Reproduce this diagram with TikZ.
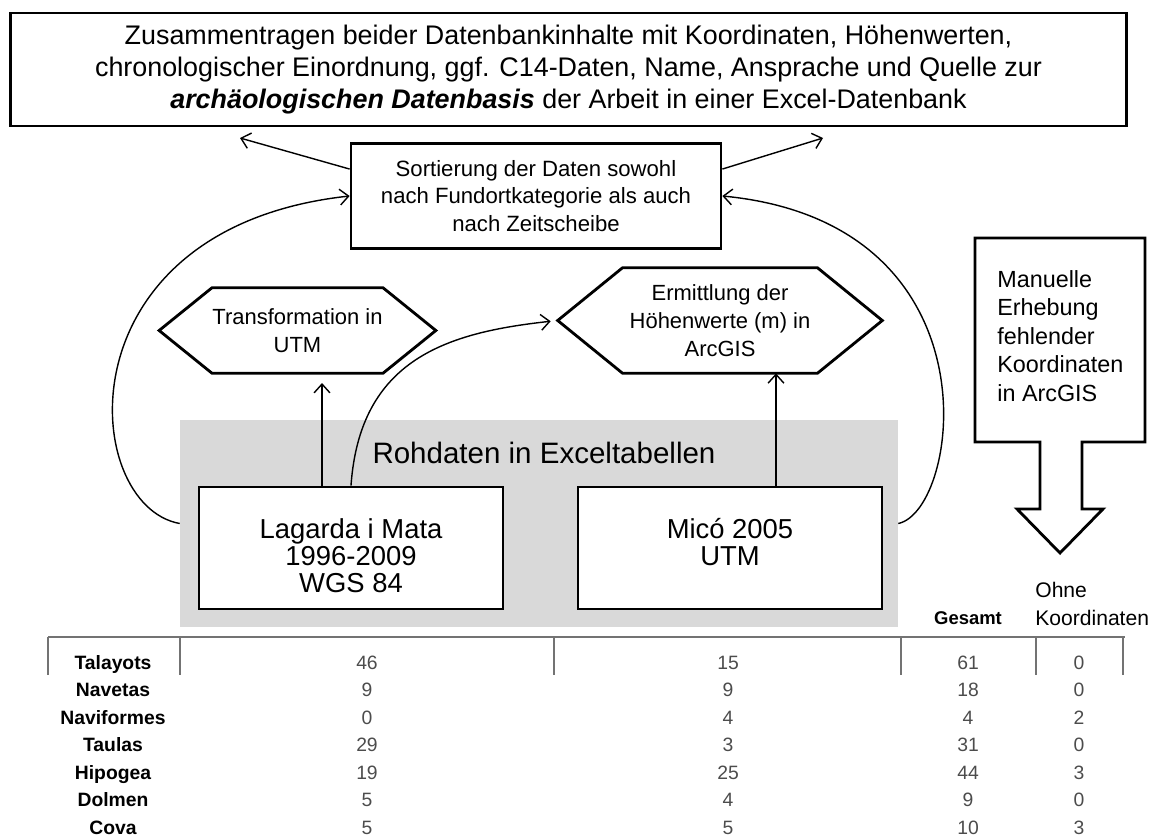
\documentclass[tikz,border=0pt]{standalone}
\usepackage{fontspec}
\setmainfont{Liberation Sans}
\usetikzlibrary{arrows.meta,calc}

\begin{document}
\begin{tikzpicture}[x=0.02cm, y=-0.02cm,
    box/.style={draw, line width=1.6pt, align=center, inner sep=0pt},
    hexa/.style={line width=1.6pt, line join=miter},
    arr/.style={line width=0.8pt, -{Straight Barb[length=5pt,width=9pt]}},
    grid/.style={black!55, line width=0.6pt},
    rowname/.style={font=\fontsize{11}{13}\selectfont\bfseries, inner sep=0pt, anchor=base},
    cell/.style={font=\fontsize{11}{13}\selectfont, text=black!70, inner sep=0pt, anchor=base}]

    \useasboundingbox (0,0) rectangle (1164,838);

    % raw data
    \node[fill=black!15, minimum width=14.36cm, minimum height=4.14cm, inner sep=0pt] (raw) at (539,523.5) {};
    \node[font=\fontsize{16.8}{18}\selectfont] (rawlbl) at (544,453) {Rohdaten in Exceltabellen};
    \node[box, fill=white, minimum width=6.08cm, minimum height=2.44cm] (lag) at (351,548) {};
    \node[align=center, font=\fontsize{15.6}{15.4}\selectfont] (lagtxt) at (351,556)
        {Lagarda i Mata\\1996-2009\\WGS 84};
    \node[box, fill=white, minimum width=6.08cm, minimum height=2.44cm] (mico) at (730,548) {};
    \node[align=center, font=\fontsize{15.6}{15.4}\selectfont] (micotxt) at (730,542)
        {Micó 2005\\UTM};

    % result
    \node[box, minimum width=22.34cm, minimum height=2.26cm,
          font=\fontsize{15.3}{18}\selectfont] (db) at (568.5,69.5)
        {Zusammentragen beider Datenbankinhalte mit Koordinaten, Höhenwerten,\\
         chronologischer Einordnung, ggf. C14-Daten, Name, Ansprache und Quelle zur\\
         \textbf{\textit{archäologischen Datenbasis}} der Arbeit in einer Excel-Datenbank};
    \node[box, minimum width=7.4cm, minimum height=2.1cm,
          font=\fontsize{12.6}{15.8}\selectfont] (sort) at (536,196)
        {Sortierung der Daten sowohl\\nach Fundortkategorie als auch\\nach Zeitscheibe};

    % hexagons
    \node[align=center, minimum width=3.3cm, minimum height=1.7cm, inner sep=0pt,
          font=\fontsize{12.5}{16}\selectfont] (trans) at (297.5,330.5) {Transformation in\\UTM};
    \draw[hexa] (trans.north west) -- (trans.north east) -- ([xshift=1.06cm]trans.east)
        -- (trans.south east) -- (trans.south west) -- ([xshift=-1.06cm]trans.west) -- cycle;
    \node[align=center, minimum width=3.88cm, minimum height=2.1cm, inner sep=0pt,
          font=\fontsize{12.5}{16}\selectfont] (ermi) at (720,320.5) {Ermittlung der\\Höhenwerte (m) in\\ArcGIS};
    \draw[hexa] (ermi.north west) -- (ermi.north east) -- ([xshift=1.3cm]ermi.east)
        -- (ermi.south east) -- (ermi.south west) -- ([xshift=-1.3cm]ermi.west) -- cycle;
    \coordinate (ermiw) at ([xshift=-1.3cm]ermi.west);

    % manual block arrow
    \draw[hexa] (975,238) -- (1145,238) -- (1145,442) -- (1082,442) -- (1082,509) -- (1103,509)
        -- (1060,553) -- (1017,509) -- (1040,509) -- (1040,442) -- (975,442) -- cycle;
    \node[align=left, anchor=west, inner sep=0pt,
          font=\fontsize{13.3}{16.2}\selectfont] (man) at (997,336)
        {Manuelle\\Erhebung\\fehlender\\Koordinaten\\in ArcGIS};

    % connectors
    \coordinate (lagup) at ([xshift=-0.58cm]lag.north);
    \coordinate (micup) at ([xshift=0.92cm]mico.north);
    \coordinate (tl) at (240,138);
    \coordinate (tr) at (823,138);
    \draw[arr, shorten >=5.5pt] (lagup) -- (lagup |- trans.south);
    \draw[arr] (micup) -- (micup |- ermi.south);
    \draw[arr, shorten >=4pt] (lag.north) .. controls +(9,-127) and +(-110,12) .. (ermiw);
    \draw[arr] (raw.west) .. controls +(-100,-18) and +(-291,32) .. (sort.west);
    \draw[arr] (raw.east) .. controls +(62,-13) and +(279,27) .. (sort.east);
    \draw[arr] ($(sort.north west)!0.25!(sort.south west)$) -- (tl);
    \draw[arr] ($(sort.north east)!0.25!(sort.south east)$) -- (tr);

    % table
    \node[font=\fontsize{10.5}{12}\selectfont\bfseries, inner sep=0pt] (gesamt) at (968,618) {Gesamt};
    \node[align=left, anchor=west, inner sep=0pt, font=\fontsize{12}{16}\selectfont] (ohne) at (1035,604)
        {Ohne\\Koordinaten};
    \draw[grid] (48,637) -- (1125,637);
    \foreach \x in {48,180,554,901,1036,1123}
        \draw[grid] (\x,637) -- (\x,675);
    \foreach \name/\a/\b/\c/\d [count=\i from 0] in {Talayots/46/15/61/0, Navetas/9/9/18/0,
            Naviformes/0/4/4/2, Taulas/29/3/31/0, Hipogea/19/25/44/3, Dolmen/5/4/9/0, Cova/5/5/10/3} {
        \node[rowname] (r\i) at (113,{669+27.5*\i}) {\name};
        \node[cell] (a\i) at (367,{669+27.5*\i}) {\a};
        \node[cell] (b\i) at (728,{669+27.5*\i}) {\b};
        \node[cell] (c\i) at (968,{669+27.5*\i}) {\c};
        \node[cell] (d\i) at (1079,{669+27.5*\i}) {\d};
    }
\end{tikzpicture}
\end{document}
